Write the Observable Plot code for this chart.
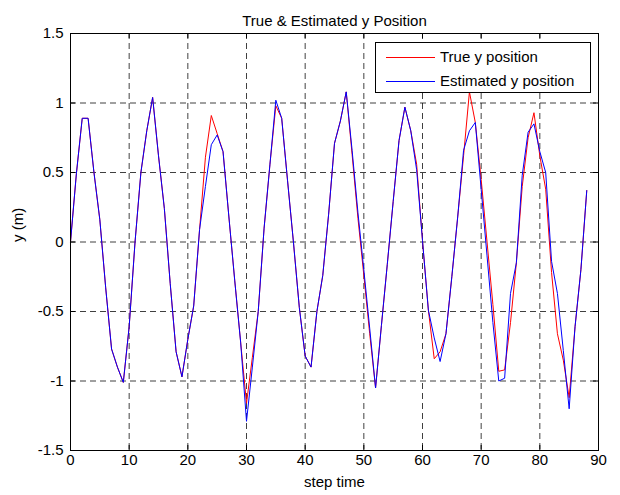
<!DOCTYPE html>
<html><head><meta charset="utf-8">
<script src="https://cdn.jsdelivr.net/npm/d3@7"></script>
<script src="https://cdn.jsdelivr.net/npm/@observablehq/plot@0.6"></script>
<style>
html,body{margin:0;padding:0;background:#fff;}
#wrap{position:relative;width:620px;height:495px;font-family:"Liberation Sans",Arial,sans-serif;}
#legend{position:absolute;left:375px;top:42px;width:216px;height:51px;border:1px solid #000;background:#fff;box-sizing:border-box;font-size:15px;color:#000;}
.row{position:absolute;left:0;height:20px;width:100%;}
.row .sw{position:absolute;left:10px;width:49px;top:10px;height:0;border-top:1px solid;}
.row .lb{position:absolute;left:64px;top:1px;line-height:18px;white-space:nowrap;}
</style></head>
<body><div id="wrap"></div>
<script>
const titleText = "True & Estimated y Position";
const xLabel = "step time";
const yLabel = "y (m)";
const seriesNames = ["True y position", "Estimated y position"];
const seriesColors = ["#ff0000", "#0000ff"];
const xTicks = [0, 10, 20, 30, 40, 50, 60, 70, 80, 90];
const yTicks = [-1.5, -1, -0.5, 0, 0.5, 1, 1.5];

const trueY = [0, 0.49, 0.89, 0.89, 0.5, 0.16, -0.33, -0.77, -0.9, -1.01,
  -0.61, 0.0, 0.5, 0.8, 1.04, 0.62, 0.24, -0.3, -0.79, -0.97,
  -0.7, -0.46, 0.09, 0.61, 0.91, 0.78, 0.65, 0.18, -0.28, -0.72,
  -1.16, -0.83, -0.5, 0.1, 0.56, 0.98, 0.89, 0.44, 0.0, -0.47,
  -0.82, -0.9, -0.5, -0.24, 0.2, 0.71, 0.87, 1.08, 0.63, 0.17,
  -0.24, -0.66, -1.05, -0.6, -0.16, 0.29, 0.73, 0.97, 0.8, 0.56,
  0.01, -0.49, -0.84, -0.79, -0.66, -0.25, 0.18, 0.62, 1.08, 0.86,
  0.45, 0.0, -0.45, -0.93, -0.92, -0.58, -0.15, 0.4, 0.75, 0.93,
  0.62, 0.38, -0.22, -0.66, -0.85, -1.12, -0.61, -0.2, 0.37];

const estY = [0, 0.49, 0.89, 0.89, 0.5, 0.16, -0.33, -0.77, -0.9, -1.01,
  -0.61, 0.0, 0.5, 0.8, 1.04, 0.62, 0.24, -0.3, -0.79, -0.97,
  -0.7, -0.46, 0.09, 0.4, 0.7, 0.77, 0.65, 0.18, -0.28, -0.72,
  -1.29, -0.9, -0.5, 0.1, 0.56, 1.02, 0.89, 0.44, 0.0, -0.47,
  -0.82, -0.9, -0.5, -0.24, 0.2, 0.71, 0.87, 1.08, 0.66, 0.21,
  -0.2, -0.62, -1.05, -0.6, -0.16, 0.29, 0.73, 0.97, 0.8, 0.52,
  0.01, -0.49, -0.69, -0.86, -0.66, -0.25, 0.18, 0.66, 0.8, 0.86,
  0.38, -0.1, -0.58, -1.0, -0.98, -0.37, -0.15, 0.48, 0.79, 0.85,
  0.65, 0.5, -0.14, -0.37, -0.78, -1.2, -0.61, -0.2, 0.37];

const rows = [];
trueY.forEach((v, i) => rows.push({step: i, y: v, s: seriesNames[0]}));
estY.forEach((v, i) => rows.push({step: i, y: v, s: seriesNames[1]}));

const W = 620, H = 495;
const mTop = 33, mBottom = 45, mLeft = 70, mRight = 22;
const innerW = W - mLeft - mRight, innerH = H - mTop - mBottom;
const fs = 15;
const gridStyle = {stroke: "#000", strokeOpacity: 0.75, strokeDasharray: "6,4"};

const chart = Plot.plot({
  width: W, height: H,
  marginTop: mTop, marginBottom: mBottom, marginLeft: mLeft, marginRight: mRight,
  style: {fontFamily: '"Liberation Sans", Arial, sans-serif', fontSize: fs + "px", background: "#fff", color: "#000"},
  x: {domain: [0, 90]},
  y: {domain: [-1.5, 1.5]},
  marks: [
    Plot.gridX(xTicks.slice(1, -1), gridStyle),
    Plot.gridY(yTicks.slice(1, -1), gridStyle),
    Plot.lineY(rows.filter(d => d.s === seriesNames[0]), {x: "step", y: "y", stroke: seriesColors[0], strokeWidth: 1}),
    Plot.lineY(rows.filter(d => d.s === seriesNames[1]), {x: "step", y: "y", stroke: seriesColors[1], strokeWidth: 1}),
    Plot.ruleX(xTicks, {stroke: "#000", insetTop: innerH - 5}),
    Plot.ruleX(xTicks, {stroke: "#000", insetBottom: innerH - 5}),
    Plot.ruleY(yTicks, {stroke: "#000", insetRight: innerW - 5}),
    Plot.ruleY(yTicks, {stroke: "#000", insetLeft: innerW - 5}),
    Plot.frame({stroke: "#000"}),
    Plot.axisX(xTicks, {tickSize: 0, tickPadding: 4, label: null, fontSize: fs, tickFormat: d => String(d)}),
    Plot.axisY(yTicks, {tickSize: 0, tickPadding: 7, label: null, fontSize: fs, tickFormat: d => String(d)}),
    Plot.text([titleText], {frameAnchor: "top", dy: -18, fontSize: fs, text: d => d}),
    Plot.text([xLabel], {frameAnchor: "bottom", dy: 36, fontSize: fs, text: d => d}),
    Plot.text([yLabel], {frameAnchor: "left", dx: -52, rotate: -90, fontSize: fs, text: d => d})
  ]
});

const wrap = document.getElementById("wrap");
wrap.appendChild(chart);
const legend = document.createElement("div");
legend.id = "legend";
seriesNames.forEach((name, i) => {
  const r = document.createElement("div");
  r.className = "row";
  r.style.top = (4 + i * 24) + "px";
  const sw = document.createElement("div");
  sw.className = "sw";
  sw.style.borderTopColor = seriesColors[i];
  const lb = document.createElement("div");
  lb.className = "lb";
  lb.textContent = name;
  r.appendChild(sw); r.appendChild(lb);
  legend.appendChild(r);
});
wrap.appendChild(legend);
</script>
</body></html>
